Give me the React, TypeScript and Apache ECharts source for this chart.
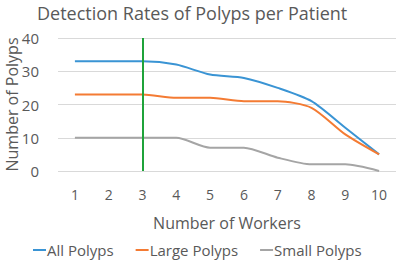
import React, { useEffect, useRef } from "react";
import * as echarts from "echarts";

const categories = ["1", "2", "3", "4", "5", "6", "7", "8", "9", "10"];
const allPolyps = [33, 33, 33, 32, 29, 28, 25, 21, 13, 5];
const largePolyps = [23, 23, 23, 22, 22, 21, 21, 19, 11, 5];
const smallPolyps = [10, 10, 10, 10, 7, 7, 4, 2, 2, 0];
const markerCategory = "3";

const FONT = "Open Sans";
const TXT = "#595959";

export default function App() {
  const ref = useRef<HTMLDivElement>(null);
  useEffect(() => {
    if (!ref.current) return;
    const chart = echarts.init(ref.current, undefined, { renderer: "svg" });
    const mk = (name: string, data: number[], color: string, extra?: any) => ({
      name,
      type: "line",
      data,
      smooth: 0.25,
      symbol: "none",
      lineStyle: { width: 2, color },
      itemStyle: { color },
      ...(extra || {}),
    });
    chart.setOption({
      animation: false,
      textStyle: { fontFamily: FONT },
      title: {
        text: "Detection Rates of Polyps per Patient",
        left: 32,
        top: 2,
        padding: [0, 5],
        textStyle: { fontFamily: FONT, fontSize: 18, fontWeight: "normal", color: TXT, lineHeight: 22 },
      },
      grid: { left: 58, right: 3, top: 38, height: 133, containLabel: false, outerBoundsMode: "none" },
      xAxis: {
        type: "category",
        data: categories,
        boundaryGap: true,
        name: "Number of Workers",
        nameLocation: "middle",
        nameGap: 52,
        nameMoveOverlap: false,
        nameTextStyle: { fontFamily: FONT, fontSize: 16, color: TXT, verticalAlign: "middle" },
        axisLine: { show: false },
        axisTick: { show: false },
        axisLabel: { fontFamily: FONT, fontSize: 14, color: TXT, margin: 16 },
      },
      yAxis: {
        type: "value",
        min: 0,
        max: 40,
        interval: 10,
        name: "Number of Polyps",
        nameLocation: "middle",
        nameGap: 46,
        nameMoveOverlap: false,
        nameTextStyle: { fontFamily: FONT, fontSize: 16, color: TXT, verticalAlign: "middle" },
        axisLine: { show: false },
        axisTick: { show: false },
        axisLabel: { fontFamily: FONT, fontSize: 15, color: TXT, margin: 19 },
        splitLine: { lineStyle: { color: "#d9d9d9", width: 1 } },
      },
      legend: {
        top: 241,
        left: 33,
        padding: 0,
        itemWidth: 13,
        itemHeight: 2,
        itemGap: 22,
        icon: "rect",
        textStyle: { fontFamily: FONT, fontSize: 15, color: TXT, lineHeight: 18, padding: [0, 0, 0, -4] },
        data: ["All Polyps", "Large Polyps", "Small Polyps"],
      },
      series: [
        mk("All Polyps", allPolyps, "#3a94d4", {
          markLine: {
            symbol: "none",
            silent: true,
            label: { show: false },
            lineStyle: { color: "#1fa33a", width: 2, type: "solid" },
            data: [{ xAxis: markerCategory }],
          },
        }),
        mk("Large Polyps", largePolyps, "#f47b33"),
        mk("Small Polyps", smallPolyps, "#a5a5a5"),
      ],
    });
    return () => chart.dispose();
  }, []);
  return <div ref={ref} style={{ position: "absolute", left: 0, top: 0, width: 399, height: 262 }} />;
}
